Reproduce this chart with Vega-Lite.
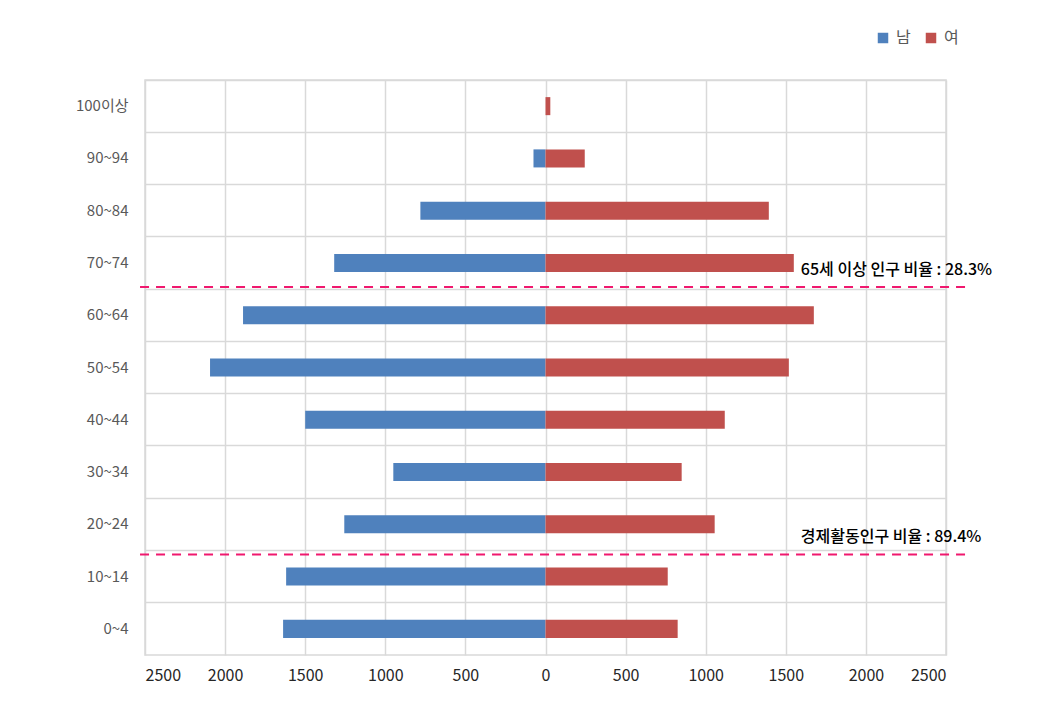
{
  "$schema": "https://vega.github.io/schema/vega-lite/v6.json",
  "autosize": {"type": "none"},
  "width": 801,
  "height": 575,
  "padding": {"left": 145, "top": 80, "right": 104, "bottom": 48},
  "background": "white",
  "config": {
    "font": "Noto Sans CJK KR",
    "view": {"stroke": "#d9d9d9", "strokeWidth": 1.5}
  },
  "datasets": {
    "pop": [
      {"age": "100이상", "sex": "남", "value": 0},
      {"age": "100이상", "sex": "여", "value": 30},
      {"age": "90~94", "sex": "남", "value": -75},
      {"age": "90~94", "sex": "여", "value": 245},
      {"age": "80~84", "sex": "남", "value": -781},
      {"age": "80~84", "sex": "여", "value": 1394},
      {"age": "70~74", "sex": "남", "value": -1319},
      {"age": "70~74", "sex": "여", "value": 1550},
      {"age": "60~64", "sex": "남", "value": -1888},
      {"age": "60~64", "sex": "여", "value": 1675},
      {"age": "50~54", "sex": "남", "value": -2094},
      {"age": "50~54", "sex": "여", "value": 1519},
      {"age": "40~44", "sex": "남", "value": -1500},
      {"age": "40~44", "sex": "여", "value": 1119},
      {"age": "30~34", "sex": "남", "value": -950},
      {"age": "30~34", "sex": "여", "value": 850},
      {"age": "20~24", "sex": "남", "value": -1256},
      {"age": "20~24", "sex": "여", "value": 1056},
      {"age": "10~14", "sex": "남", "value": -1619},
      {"age": "10~14", "sex": "여", "value": 763},
      {"age": "0~4", "sex": "남", "value": -1638},
      {"age": "0~4", "sex": "여", "value": 825}
    ],
    "lines": [
      {"age": "60~64", "x1": -2531, "x2": 2625, "shift": -2},
      {"age": "10~14", "x1": -2531, "x2": 2625, "shift": 4}
    ],
    "notes": [
      {"age": "70~74", "x": 1594, "label": "65세 이상 인구 비율 : 28.3%", "shift": 33},
      {"age": "20~24", "x": 1594, "label": "경제활동인구 비율 : 89.4%", "shift": 39}
    ]
  },
  "layer": [
    {
      "data": {"name": "pop"},
      "mark": {"type": "bar", "height": {"band": 0.345}},
      "encoding": {
        "y": {
          "field": "age",
          "type": "nominal",
          "scale": {
            "domain": ["100이상", "90~94", "80~84", "70~74", "60~64", "50~54", "40~44", "30~34", "20~24", "10~14", "0~4"],
            "paddingInner": 0,
            "paddingOuter": 0
          },
          "axis": {
            "title": null,
            "domain": false,
            "ticks": false,
            "grid": true,
            "gridColor": "#d9d9d9",
            "gridWidth": 1.5,
            "bandPosition": 0,
            "labelColor": "#595959",
            "labelFontSize": 15,
            "labelPadding": 17,
            "labelFont": "Noto Sans CJK KR"
          }
        },
        "x": {
          "field": "value",
          "type": "quantitative",
          "stack": null,
          "scale": {"domain": [-2500, 2500], "nice": false, "zero": false},
          "axis": {
            "title": null,
            "values": [-2500, -2000, -1500, -1000, -500, 0, 500, 1000, 1500, 2000, 2500],
            "labelExpr": "format(abs(datum.value), 'd')",
            "domain": false,
            "ticks": false,
            "grid": true,
            "gridColor": "#d9d9d9",
            "gridWidth": 1.5,
            "labelColor": "#262626",
            "labelFontSize": 16,
            "labelPadding": 12,
            "labelFont": "Noto Sans CJK KR"
          }
        },
        "color": {
          "field": "sex",
          "type": "nominal",
          "scale": {"domain": ["남", "여"], "range": ["#4F81BD", "#C0504D"]},
          "legend": {
            "title": null,
            "orient": "none",
            "direction": "horizontal",
            "legendX": 730,
            "legendY": -50,
            "symbolType": "square",
            "symbolSize": 110,
            "symbolStrokeWidth": 0,
            "labelColor": "#595959",
            "labelFontSize": 16,
            "columnPadding": 12,
            "labelOffset": 5
          }
        }
      }
    },
    {
      "data": {"name": "lines"},
      "mark": {"type": "rule", "color": "#F0186E", "strokeWidth": 2, "strokeDash": [9, 7], "clip": false},
      "encoding": {
        "y": {"field": "age", "type": "nominal", "bandPosition": 0},
        "yOffset": {"field": "shift", "type": "quantitative", "scale": null},
        "x": {"field": "x1", "type": "quantitative"},
        "x2": {"field": "x2"}
      }
    },
    {
      "data": {"name": "notes"},
      "mark": {"type": "text", "align": "left", "baseline": "middle", "fontSize": 16, "fontWeight": 500, "color": "#000000", "font": "Noto Sans CJK KR"},
      "encoding": {
        "y": {"field": "age", "type": "nominal"},
        "yOffset": {"field": "shift", "type": "quantitative", "scale": null},
        "x": {"field": "x", "type": "quantitative"},
        "text": {"field": "label"}
      }
    }
  ]
}
